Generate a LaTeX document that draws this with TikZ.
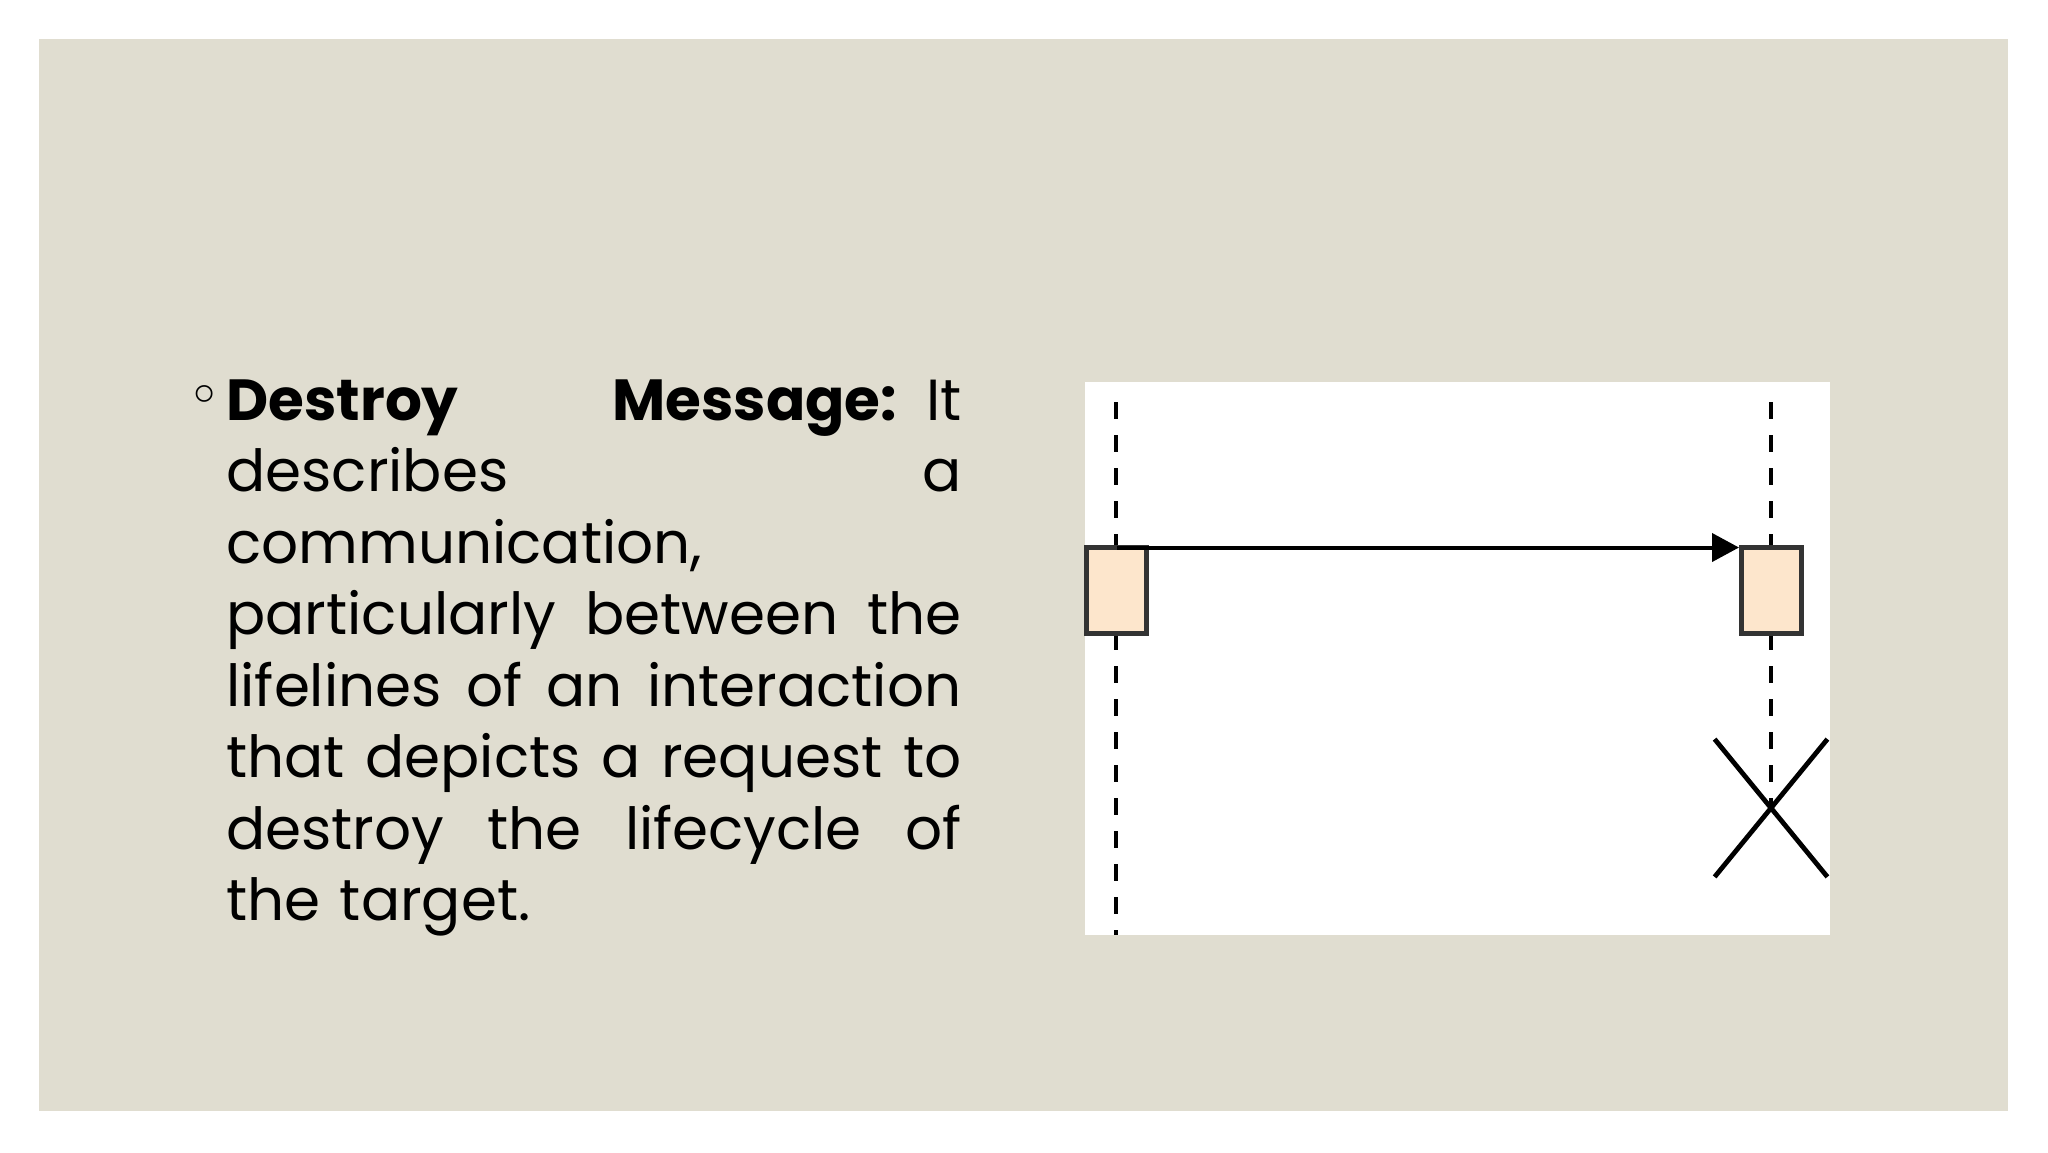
\documentclass[tikz,border=0pt]{standalone}
\usepackage{fontspec}
\usetikzlibrary{arrows.meta,shapes.misc}
\newfontfamily\slidefont{Poppins}
\newfontfamily\symfont{DejaVu Sans}
\definecolor{slidebg}{RGB}{224,221,208}
\definecolor{actfill}{RGB}{253,230,204}
\newcommand{\jline}[1]{\leavevmode\hbox to 367.5pt{\spaceskip=.25em plus 1fil\relax #1}}

\begin{document}
\begin{tikzpicture}[x=0.5pt,y=-0.5pt,
	lifeline/.style={black, line width=2.3pt, dash pattern=on 8.5pt off 8pt},
	actbox/.style={draw=black!80, fill=actfill, line width=2.5pt, minimum width=30pt, minimum height=43pt, inner sep=0pt},
	msg/.style={black, line width=2pt, -{Triangle[length=13.5pt,width=14pt]}},
	destroymark/.style={draw=black, cross out, line width=2.4pt, minimum width=54pt, minimum height=66.5pt, inner sep=0pt},
	bodytext/.style={anchor=north west, inner sep=0pt, text width=367.5pt, align=left, font=\slidefont\fontsize{29pt}{35.75pt}\selectfont}]
	\useasboundingbox (0,0) rectangle (2048,1152);
	\fill[white] (0,0) rectangle (2048,1152);
	\fill[slidebg] (39,39) rectangle (2008,1111);
	\fill[white] (1085,382) rectangle (1830,935);
	
	\node[font=\symfont\fontsize{29pt}{29pt}\selectfont, inner sep=0pt] (bullet) at (205,401) {◦};
	\node[bodytext] (desc) at (226,379) {%
		\jline{\textbf{Destroy}\hfill\textbf{Message:} It}\\
		\jline{describes a}\\
		communication,\\
		\jline{particularly between the}\\
		\jline{lifelines of an interaction}\\
		\jline{that depicts a request to}\\
		\jline{destroy the lifecycle of}\\
		the target.};
	
	\coordinate (srctop) at (1116,402);
	\coordinate (srcbot) at (1116,935);
	\coordinate (tgttop) at (1771,402);
	\node[destroymark] (destroy) at (1771,808) {};
	
	\draw[lifeline] (srctop) -- (srcbot);
	\draw[lifeline] (tgttop) -- (destroy.center);
	
	\node[actbox] (srcact) at (1116.5,590) {};
	\node[actbox] (tgtact) at (1771.5,590) {};
	
	\draw[msg] ([yshift=-1.5pt]srcact.north) -- ([yshift=-1.5pt]tgtact.north west);
\end{tikzpicture}
\end{document}
